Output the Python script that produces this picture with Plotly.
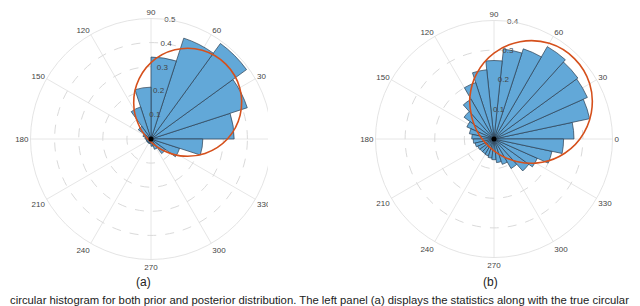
import plotly.graph_objects as go

# ---- Panel (a): prior, 20 bins of 18 degrees ----
a_theta = [9, 27, 45, 63, 81, 99, 117, 135, 153, 171,
           189, 207, 225, 243, 261, 279, 297, 315, 333, 351]
a_r = [0.345, 0.42, 0.49, 0.44, 0.34, 0.215, 0.14, 0.065, 0.035, 0.025,
       0.02, 0.02, 0.02, 0.02, 0.02, 0.03, 0.045, 0.075, 0.125, 0.215]
a_width = 18

# true density curve (a)
curve_theta = [0, 15, 30, 45, 60, 75, 90, 105, 120, 135, 150, 165, 180,
               195, 210, 225, 240, 255, 270, 285, 300, 315, 330, 345, 360]
a_curve = [0.317, 0.383, 0.425, 0.439, 0.425, 0.383, 0.317, 0.232, 0.140, 0.063,
           0.028, 0.017, 0.0125, 0.010, 0.0093, 0.009, 0.0093, 0.010, 0.0125, 0.017,
           0.028, 0.063, 0.140, 0.232, 0.317]

# ---- Panel (b): posterior, 30 bins of 12 degrees ----
b_theta = [6 + 12 * i for i in range(30)]
b_r = [0.27, 0.33, 0.345, 0.35, 0.36, 0.32, 0.305, 0.265, 0.235, 0.20,
       0.155, 0.125, 0.10, 0.085, 0.075, 0.07, 0.065, 0.06, 0.058, 0.058,
       0.06, 0.065, 0.07, 0.08, 0.09, 0.115, 0.145, 0.16, 0.20, 0.235]
b_width = 12
b_curve = [0.290, 0.340, 0.373, 0.384, 0.373, 0.340, 0.290, 0.228, 0.163, 0.107,
           0.071, 0.051, 0.040, 0.034, 0.031, 0.030, 0.031, 0.034, 0.040, 0.051,
           0.071, 0.107, 0.163, 0.228, 0.290]

ang_vals = [0, 30, 60, 90, 120, 150, 180, 210, 240, 270, 300, 330]
ang_text_a = ["", "30", "60", "90", "120", "150", "180", "210", "240", "270", "300", "330"]
ang_text_b = [str(v) for v in ang_vals]
rad_a = [0.1, 0.2, 0.3, 0.4, 0.5]
rad_b = [0.1, 0.2, 0.3, 0.4]
rad_label_angle = 81

caption = ("circular histogram for both prior and posterior distribution. "
           "The left panel (a) displays the statistics along with the true circular")

BAR = "#62A8D8"
EDGE = "#2B3E50"
CURVE = "#D5501C"
W, H = 640, 306

fig = go.Figure()
for sub, th, rr, w, cv, rt in [("polar", a_theta, a_r, a_width, a_curve, rad_a),
                               ("polar2", b_theta, b_r, b_width, b_curve, rad_b)]:
    fig.add_trace(go.Barpolar(r=rr, theta=th, width=[w] * len(th), subplot=sub,
                              marker=dict(color=BAR, line=dict(color=EDGE, width=0.7)),
                              opacity=1, showlegend=False))
    fig.add_trace(go.Scatterpolar(r=cv, theta=curve_theta, mode="lines", subplot=sub,
                                  line=dict(color=CURVE, width=1.6, shape="spline"),
                                  showlegend=False))
    fig.add_trace(go.Scatterpolar(r=[0], theta=[0], mode="markers", subplot=sub,
                                  marker=dict(color="black", size=5), showlegend=False))
    # radial tick labels, placed through the polar scale
    fig.add_trace(go.Scatterpolar(r=rt, theta=[rad_label_angle] * len(rt), mode="text",
                                  text=[str(v) for v in rt], subplot=sub,
                                  textfont=dict(size=8, color="#444", family="Liberation Sans"),
                                  showlegend=False))


def dom(cx, cy, rad):
    return ([(cx - rad) / W, (cx + rad) / W], [(H - cy - rad) / H, (H - cy + rad) / H])


def polar_layout(cx, cy, rad, rmax, rticks, atext):
    dx, dy = dom(cx, cy, rad)
    return dict(
        domain=dict(x=dx, y=dy),
        bgcolor="white",
        radialaxis=dict(range=[0, rmax], tickvals=rticks, showticklabels=False,
                        angle=80, showline=False, ticks="",
                        gridcolor="#DADADA", griddash="dash", gridwidth=0.8),
        angularaxis=dict(tickvals=ang_vals, ticktext=atext, direction="counterclockwise",
                         rotation=0, showline=True, linecolor="#DDDDDD", linewidth=0.8,
                         gridcolor="#E6E6E6", gridwidth=0.8, ticks="",
                         tickfont=dict(size=8, color="#444", family="Liberation Sans")),
    )


fig.update_layout(
    width=W, height=H,
    margin=dict(l=0, r=0, t=0, b=0),
    paper_bgcolor="white",
    polar=polar_layout(143, 131, 120.5, 0.5, rad_a, ang_text_a),
    polar2=polar_layout(486, 131, 118.5, 0.4, rad_b, ang_text_b),
    shapes=[dict(type="rect", xref="paper", yref="paper", x0=260 / W, x1=320 / W, y0=0, y1=1,
                 fillcolor="white", line=dict(width=0), layer="above")],
)
fig.add_annotation(text="(a)", x=135 / W, y=(H - 283) / H, xref="paper", yref="paper",
                   xanchor="center", yanchor="bottom", showarrow=False,
                   font=dict(size=12, color="#222", family="Liberation Sans"))
fig.add_annotation(text="(b)", x=482 / W, y=(H - 283) / H, xref="paper", yref="paper",
                   xanchor="center", yanchor="bottom", showarrow=False,
                   font=dict(size=12, color="#222", family="Liberation Sans"))
fig.add_annotation(text=caption, x=0, y=(H - 292) / H, xref="paper", yref="paper",
                   xanchor="left", yanchor="middle", showarrow=False,
                   font=dict(size=11.3, color="#222", family="Liberation Sans"))

fig.write_html("out.html")
